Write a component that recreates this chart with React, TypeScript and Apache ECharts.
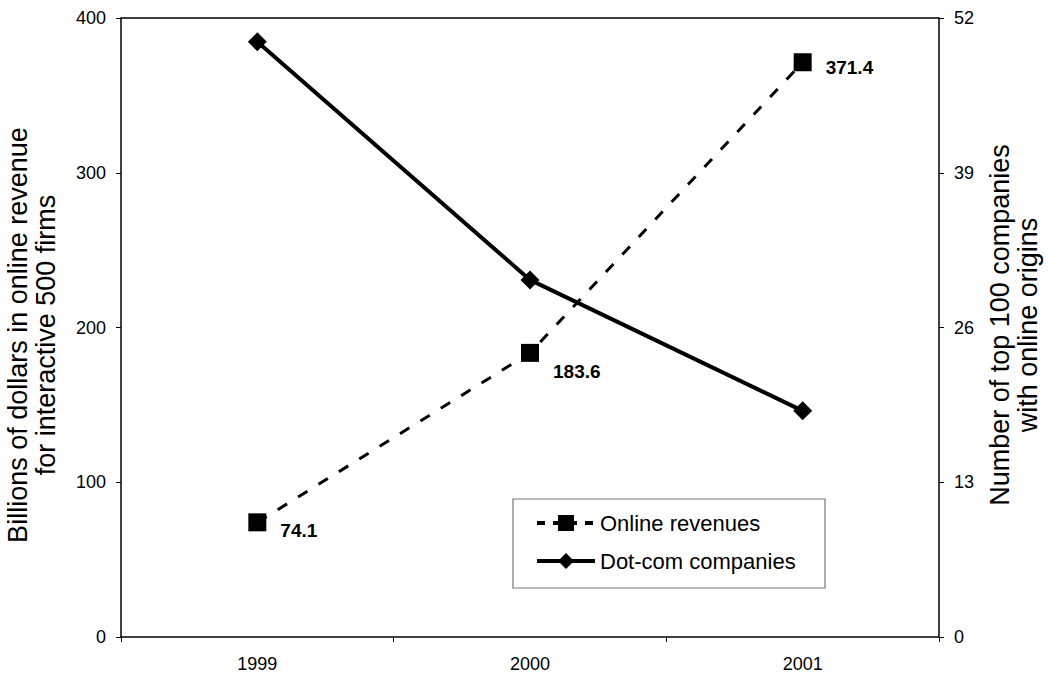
import React, { useEffect, useRef } from "react";
import * as echarts from "echarts";

const years = ["1999", "2000", "2001"];
const onlineRevenues = [74.1, 183.6, 371.4];
const dotComCompanies = [50, 30, 19];
const leftTicks = [0, 100, 200, 300, 400];
const rightTicks = [0, 13, 26, 39, 52];

const FONT = "'Liberation Sans', Arial, Helvetica, sans-serif";

export default function App() {
  const ref = useRef<HTMLDivElement>(null);
  useEffect(() => {
    if (!ref.current) return;
    const chart = echarts.init(ref.current, null, { renderer: "svg" });
    const labelOffsets = [
      [0, 8],
      [0, 19],
      [0, 5],
    ];
    chart.setOption({
      animation: false,
      backgroundColor: "#fff",
      textStyle: { fontFamily: FONT, color: "#000" },
      grid: {
        left: 121,
        right: 110,
        top: 18,
        bottom: 38,
        containLabel: false,
        outerBoundsMode: "none",
      },
      legend: {
        orient: "vertical",
        left: 535,
        top: 512,
        padding: 0,
        z: 10,
        itemWidth: 58,
        itemHeight: 20,
        itemGap: 16,
        textStyle: { fontFamily: FONT, fontSize: 22, color: "#000" },
        data: [
          { name: "Online revenues", lineStyle: { width: 4, type: [8, 8] } },
          { name: "Dot-com companies", lineStyle: { width: 4 } },
        ],
      },
      xAxis: {
        type: "category",
        data: years,
        boundaryGap: true,
        axisLine: { lineStyle: { color: "#000", width: 1.5 } },
        axisTick: { show: true, interval: 0, length: 5, lineStyle: { color: "#000" } },
        axisLabel: { fontFamily: FONT, fontSize: 18, color: "#000", margin: 18 },
        splitLine: { show: false },
      },
      yAxis: [
        {
          type: "value",
          min: leftTicks[0],
          max: leftTicks[leftTicks.length - 1],
          interval: leftTicks[1] - leftTicks[0],
          axisLine: { show: true, lineStyle: { color: "#000", width: 1.5 } },
          axisTick: { show: true, length: 5, lineStyle: { color: "#000" } },
          axisLabel: { fontFamily: FONT, fontSize: 18, color: "#000", margin: 15 },
          splitLine: { show: false },
        },
        {
          type: "value",
          position: "right",
          min: rightTicks[0],
          max: rightTicks[rightTicks.length - 1],
          interval: rightTicks[1] - rightTicks[0],
          axisLine: { show: true, lineStyle: { color: "#000", width: 1.5 } },
          axisTick: { show: true, length: 5, lineStyle: { color: "#000" } },
          axisLabel: { fontFamily: FONT, fontSize: 18, color: "#000", margin: 15 },
          splitLine: { show: false },
        },
      ],
      graphic: [
        {
          type: "line",
          shape: { x1: 121, y1: 18, x2: 939, y2: 18 },
          style: { stroke: "#000", lineWidth: 1.5 },
          z: 0,
        },
        {
          type: "rect",
          shape: { x: 513, y: 499, width: 312, height: 89 },
          style: { fill: "#fff", stroke: "#777", lineWidth: 1.2 },
          z: 1,
        },
        {
          type: "text",
          x: 31.5,
          y: 335,
          rotation: Math.PI / 2,
          style: {
            text: "Billions of dollars in online revenue\nfor interactive 500 firms",
            font: `27px ${FONT}`,
            fill: "#000",
            align: "center",
            verticalAlign: "middle",
            lineHeight: 28,
          },
        },
        {
          type: "text",
          x: 1014,
          y: 325,
          rotation: Math.PI / 2,
          style: {
            text: "Number of top 100 companies\nwith online origins",
            font: `27px ${FONT}`,
            fill: "#000",
            align: "center",
            verticalAlign: "middle",
            lineHeight: 28,
          },
        },
      ],
      series: [
        {
          name: "Online revenues",
          type: "line",
          yAxisIndex: 0,
          data: onlineRevenues.map((v, i) => ({
            value: v,
            label: { offset: labelOffsets[i] },
          })),
          symbol: "rect",
          symbolSize: 18,
          itemStyle: { color: "#000" },
          lineStyle: { color: "#000", width: 3, type: [11, 13] },
          label: {
            show: true,
            position: "right",
            distance: 14,
            fontFamily: FONT,
            fontSize: 19,
            fontWeight: "bold",
            color: "#000",
            formatter: (p: any) => p.value.toFixed(1),
          },
          z: 3,
        },
        {
          name: "Dot-com companies",
          type: "line",
          yAxisIndex: 1,
          data: dotComCompanies,
          symbol: "diamond",
          symbolSize: 19,
          itemStyle: { color: "#000" },
          lineStyle: { color: "#000", width: 4 },
          z: 4,
        },
      ],
    });
    return () => chart.dispose();
  }, []);
  return (
    <div
      ref={ref}
      style={{ position: "fixed", left: 0, top: 0, width: 1049, height: 675, background: "#fff" }}
    />
  );
}
